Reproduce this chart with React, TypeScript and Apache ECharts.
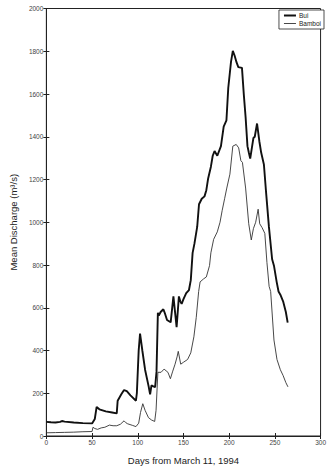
import React, { useEffect, useRef } from "react";
import * as echarts from "echarts";

const buiDays = [0, 5, 10, 15, 17, 20, 30, 40, 50, 53, 55, 58, 65, 72, 77, 78, 82, 85, 88, 92, 98, 99, 101, 102.5, 105, 108, 112, 113.5, 115, 117, 119, 120.5, 122, 123, 125, 128, 130, 132, 136, 139, 142.5, 145, 146.5, 148, 150, 153, 156, 158, 160, 162, 165, 167, 170, 173, 175, 177, 180, 182, 184, 187, 191, 194, 197, 199, 202, 204, 206, 208, 210, 214, 216, 218, 220, 221.5, 223, 226.5, 228, 230.5, 233, 235, 238, 240, 243.5, 247, 249, 252, 254, 256, 259, 262, 264];
const buiValues = [66, 64, 63, 66, 70, 67, 63, 60, 59, 80, 136, 125, 115, 110, 106, 165, 195, 215, 210, 190, 165, 200, 400, 479, 400, 310, 230, 195, 237, 232, 229, 300, 577, 563, 580, 593, 570, 543, 532, 653, 509, 653, 630, 618, 640, 668, 683, 729, 857, 900, 978, 1084, 1110, 1121, 1150, 1205, 1260, 1311, 1333, 1311, 1356, 1447, 1477, 1628, 1750, 1802, 1779, 1749, 1726, 1722, 1598, 1490, 1356, 1326, 1298, 1394, 1400, 1462, 1379, 1326, 1270, 1160, 978, 827, 797, 720, 676, 661, 630, 580, 530];

const bamboiDays = [0, 10, 20, 30, 40, 50, 51, 53, 56, 60, 64, 69, 73, 77, 81, 85, 87, 89, 94, 98, 101, 103, 105.5, 108, 111.7, 115, 118.5, 120, 122, 125.5, 128.8, 131, 133, 135.7, 138, 140.8, 143, 144.3, 147, 150, 154.5, 158, 161.4, 164, 166.6, 168.2, 172, 175, 178.5, 180, 183, 187, 190, 192.3, 195, 197.4, 200.8, 204, 207.7, 210.4, 212.8, 214.5, 218, 221.4, 224.2, 226.5, 229, 231.7, 233.4, 236, 239, 241.3, 243.7, 245.4, 249, 252.3, 256, 259, 262, 264.3];
const bamboiValues = [15, 16, 17, 18, 20, 21, 41, 35, 31, 38, 41, 51, 48, 48, 55, 71, 62, 57, 50, 44, 60, 110, 151, 120, 86, 75, 68, 120, 298, 298, 313, 305, 298, 268, 300, 336, 370, 396, 336, 345, 358, 389, 464, 555, 676, 721, 735, 744, 797, 857, 920, 955, 1000, 1054, 1110, 1160, 1225, 1356, 1364, 1348, 1288, 1280, 1160, 993, 917, 970, 1000, 1061, 993, 975, 948, 812, 700, 676, 449, 358, 310, 283, 250, 230];

const seriesNames = ["Bui", "Bamboi"];
const xTitle = "Days from March 11, 1994";
const yTitle = "Mean Discharge (m\u00b3/s)";

export default function App() {
  const ref = useRef<HTMLDivElement>(null);
  useEffect(() => {
    if (!ref.current) return;
    const chart = echarts.init(ref.current, null, { renderer: "svg" });
    const font = "Liberation Sans, Arial, sans-serif";
    const axisCommon = {
      type: "value" as const,
      axisLine: { show: true, lineStyle: { color: "#222", width: 1 } },
      axisTick: { show: true, inside: true, length: 3, lineStyle: { color: "#222" } },
      splitLine: { show: false },
    };
    chart.setOption({
      animation: false,
      backgroundColor: "#fff",
      grid: {
        left: 35,
        right: 3,
        top: 8.5,
        bottom: 21,
        containLabel: false,
        show: true,
        borderColor: "#222",
        borderWidth: 1,
      },
      legend: {
        data: [
          { name: seriesNames[0], lineStyle: { width: 2, color: "#111" } },
          { name: seriesNames[1], lineStyle: { width: 0.9, color: "#333" } },
        ],
        orient: "vertical",
        right: 5,
        top: 10,
        borderColor: "#222",
        borderWidth: 0.8,
        padding: [2, 3, 2, 4],
        itemGap: 1,
        itemWidth: 12,
        itemHeight: 7,
        itemStyle: { opacity: 0 },
        textStyle: { fontSize: 6.5, fontFamily: font, color: "#222", padding: [0, 0, 0, -2] },
        backgroundColor: "#fff",
      },
      xAxis: [
        {
          ...axisCommon,
          min: 0,
          max: 300,
          interval: 50,
          position: "bottom",
          name: xTitle,
          nameLocation: "middle",
          nameGap: 19,
          nameTextStyle: { fontSize: 9.5, fontFamily: font, color: "#222" },
          axisLabel: { fontSize: 6.5, fontFamily: font, color: "#444", margin: 3 },
        },
        {
          ...axisCommon,
          min: 0,
          max: 300,
          interval: 50,
          position: "top",
          axisLabel: { show: false },
        },
      ],
      yAxis: [
        {
          ...axisCommon,
          min: 0,
          max: 2000,
          interval: 200,
          position: "left",
          name: yTitle,
          nameLocation: "middle",
          nameGap: 27,
          nameTextStyle: { fontSize: 9.5, fontFamily: font, color: "#222" },
          axisLabel: {
            fontSize: 6.5,
            fontFamily: font,
            color: "#444",
            margin: 3,
            formatter: (v: number) => String(v),
          },
        },
        {
          ...axisCommon,
          min: 0,
          max: 2000,
          interval: 200,
          position: "right",
          axisLabel: { show: false },
        },
      ],
      series: [
        {
          name: seriesNames[0],
          type: "line",
          data: buiDays.map((d, i) => [d, buiValues[i]]),
          showSymbol: false,
          symbol: "none",
          lineStyle: { color: "#111", width: 1.9 },
          itemStyle: { color: "#111" },
        },
        {
          name: seriesNames[1],
          type: "line",
          data: bamboiDays.map((d, i) => [d, bamboiValues[i]]),
          showSymbol: false,
          symbol: "none",
          lineStyle: { color: "#333", width: 0.9 },
          itemStyle: { color: "#333" },
        },
      ],
    });
    return () => chart.dispose();
  }, []);
  return (
    <div
      ref={ref}
      style={{ position: "fixed", left: 0, top: 0, width: 329, height: 470, background: "#fff" }}
    />
  );
}
